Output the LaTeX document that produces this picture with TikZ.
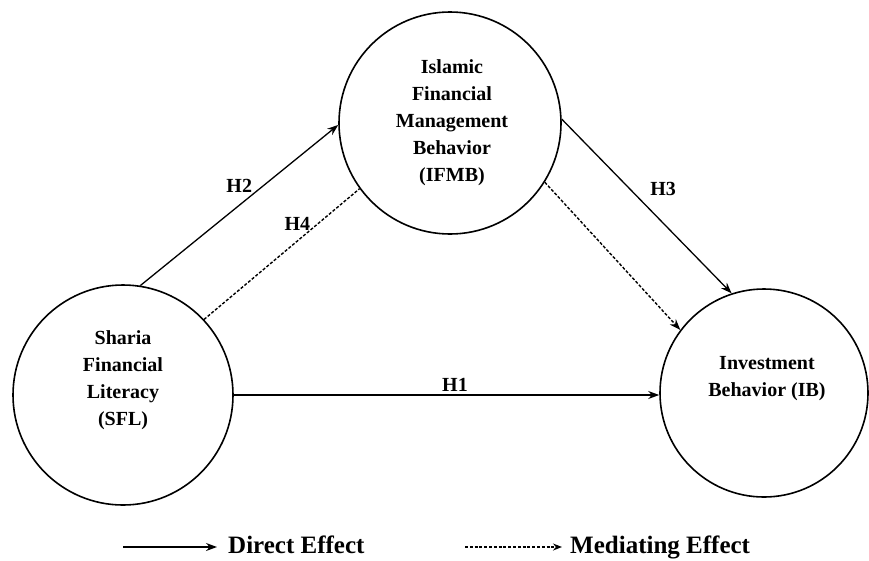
\documentclass[tikz,border=0pt]{standalone}
\usepackage{fontspec}
\setmainfont{Liberation Serif}[BoldFont={Liberation Serif Bold},ItalicFont={Liberation Serif Italic}]
\usetikzlibrary{arrows.meta}

\begin{document}
\begin{tikzpicture}[x=1pt,y=-1pt,
		var/.style={circle, draw, line width=1.6pt, inner sep=0pt},
		lbl/.style={align=center, font=\bfseries\fontsize{20}{27}\selectfont},
		hyp/.style={font=\bfseries\fontsize{20}{24}\selectfont},
		legend/.style={inner sep=0pt, font=\bfseries\fontsize{25}{30}\selectfont},
		direct/.style={line width=1.3pt, -{Stealth[length=11pt,width=8pt]}},
		mediate/.style={line width=1.4pt, dash pattern=on 3pt off 1.8pt}]
				\useasboundingbox (0,0) rectangle (869,560);
				\node[var,minimum size=222pt] (ifmb) at (450,123) {};
				\node[var,minimum size=220pt] (sfl)  at (123,395) {};
				\node[var,minimum size=208pt] (ib)   at (764,393) {};
				\node[lbl] (ifmbtxt) at (452,123) {Islamic\\Financial\\Management\\Behavior\\(IFMB)};
				\node[lbl] (sfltxt)  at (123,380) {Sharia\\Financial\\Literacy\\(SFL)};
				\node[lbl] (ibtxt)   at (767,379) {Investment\\Behavior (IB)};
				\draw[direct] (sfl.east) -- (sfl.east -| ib.west) node[hyp,pos=0.52,above] {H1};
				\draw[direct] (sfl.81) -- (ifmb.181) node[hyp,midway,above=9pt] {H2};
				\draw[direct] (ifmb.2) -- (ib.108) node[hyp,pos=0.48,above right=3pt] {H3};
				\draw[mediate] (sfl.43) -- (ifmb.216) node[hyp,pos=0.6,above=6pt] {H4};
				\draw[mediate,-{Stealth[length=11pt,width=8pt]}] (ifmb.-32) -- (ib.143);
				\coordinate (dbeg) at (123,547);
				\node[legend,anchor=base west] (dlbl) at (228,553) {Direct Effect};
				\draw[direct,shorten >=11pt] (dbeg) -- (dbeg -| dlbl.west);
				\coordinate (mbeg) at (465,547);
				\node[legend,anchor=base west] (mlbl) at (570,553) {Mediating Effect};
				\draw[mediate,-{Stealth[length=9pt,width=7pt]},shorten >=8pt] (mbeg) -- (mbeg -| mlbl.west);
			\end{tikzpicture}
\end{document}
